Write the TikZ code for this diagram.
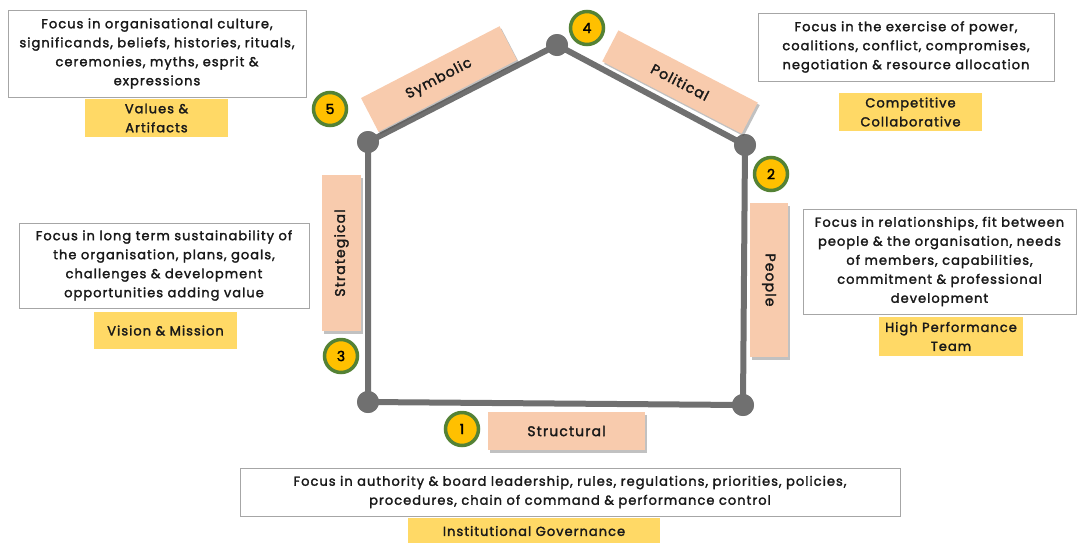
\documentclass[tikz,border=0pt]{standalone}
\usepackage{fontspec}
\newfontfamily\gf[FakeBold=2, LetterSpace=8]{Poppins}
\usetikzlibrary{shadows}
\definecolor{linegray}{HTML}{707070}
\definecolor{peach}{HTML}{F8CBAD}
\definecolor{ylw}{HTML}{FFD966}
\definecolor{gold}{HTML}{FFC000}
\definecolor{ring}{HTML}{548235}
\definecolor{boxgray}{HTML}{A6A6A6}
\tikzset{
  txt/.style={font=\gf\fontsize{13}{19}\selectfont, align=center, text=black!90},
  infobox/.style={txt, draw=boxgray, line width=1pt, fill=white, inner sep=0pt},
  keybox/.style={txt, fill=ylw, inner sep=0pt},
  frame/.style={txt, font=\gf\fontsize{14}{19}\selectfont, fill=peach, inner sep=0pt, drop shadow={shadow xshift=2pt, shadow yshift=-2.5pt, opacity=0.35, fill=black!70}},
  num/.style={circle, fill=gold, draw=ring, line width=3.5pt, minimum size=33pt, inner sep=0pt, font=\gf\fontsize{14}{15}\selectfont},
  vtx/.style={circle, fill=linegray, minimum size=22pt, inner sep=0pt},
  side/.style={linegray, line width=6pt}
}
\begin{document}
\begin{tikzpicture}[x=1pt,y=-1pt]
\useasboundingbox (0,0) rectangle (1079,542);
% house
\node[vtx] (tl) at (368,142) {};
\node[vtx] (ap) at (557,45) {};
\node[vtx] (tr) at (745,145) {};
\node[vtx] (br) at (743,405) {};
\node[vtx] (bl) at (368,402) {};
\draw[side] (tl.center) -- (ap.center) -- (tr.center) -- (br.center) -- (bl.center) -- (tl.center);
\foreach \n in {tl,ap,tr,br,bl} \node[vtx] at (\n) {};
% frames
\node[frame, rotate=27.4, minimum width=156pt, minimum height=38pt] (sym) at (439,79) {Symbolic};
\node[frame, rotate=-27.4, minimum width=157pt, minimum height=35pt] (pol) at (680,82) {Political};
\node[frame, rotate=90, minimum width=156pt, minimum height=39pt] (str) at (341.5,253) {Strategical};
\node[frame, rotate=-90, minimum width=154pt, minimum height=38pt] (peo) at (769,280) {People};
\node[frame, minimum width=157pt, minimum height=38pt] (stu) at (566.5,431) {Structural};
% numbers
\node[num] (n1) at (462,429) {1};
\node[num] (n2) at (771,174) {2};
\node[num] (n3) at (341,356) {3};
\node[num] (n4) at (587,28) {4};
\node[num] (n5) at (330,109) {5};
% info boxes
\node[infobox, minimum width=298pt, minimum height=87pt] (b5) at (157,53.5) {Focus in organisational culture,\\significands, beliefs, histories, rituals,\\ceremonies, myths, esprit \&\\expressions};
\node[keybox, minimum width=143pt, minimum height=38pt] (k5) at (156.5,118) {Values \&\\Artifacts};
\node[infobox, minimum width=296pt, minimum height=68pt] (b4) at (906,47) {Focus in the exercise of power,\\coalitions, conflict, compromises,\\negotiation \& resource allocation};
\node[keybox, minimum width=143pt, minimum height=38pt] (k4) at (910.5,112) {Competitive\\Collaborative};
\node[infobox, minimum width=290pt, minimum height=85pt] (b3) at (164,265.5) {Focus in long term sustainability of\\the organisation, plans, goals,\\challenges \& development\\opportunities adding value};
\node[keybox, minimum width=143pt, minimum height=37pt] (k3) at (165.5,330.5) {Vision \& Mission};
\node[infobox, minimum width=273pt, minimum height=105pt] (b2) at (939.5,261.5) {Focus in relationships, fit between\\people \& the organisation, needs\\of members, capabilities,\\commitment \& professional\\development};
\node[keybox, minimum width=144pt, minimum height=39pt] (k2) at (951,336.5) {High Performance\\Team};
\node[infobox, minimum width=660pt, minimum height=48pt] (b1) at (570,492) {Focus in authority \& board leadership, rules, regulations, priorities, policies,\\procedures, chain of command \& performance control};
\node[keybox, minimum width=252pt, minimum height=26pt] (k1) at (534,531) {Institutional Governance};
\end{tikzpicture}
\end{document}
